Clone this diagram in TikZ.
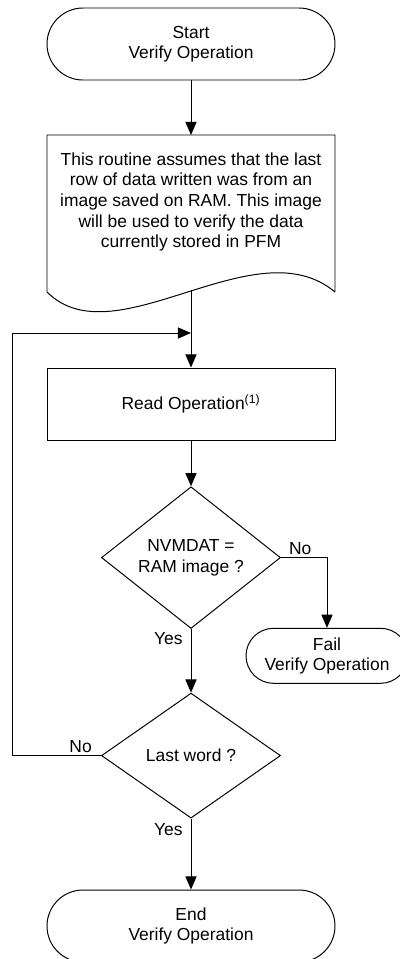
\documentclass[tikz,border=0pt]{standalone}
\usepackage{fontspec}
\setmainfont{Liberation Sans}
\usetikzlibrary{shapes.geometric,arrows.meta}

\begin{document}
\begin{tikzpicture}[line width=0.7pt, >={Triangle[length=3.3mm,width=2.8mm]},
  every node/.style={font=\fontsize{12.4}{14.6}\selectfont},
  term/.style={draw, rounded corners=9mm, minimum width=7.2cm, minimum height=1.8cm, align=center, inner sep=0pt},
  procbox/.style={draw, minimum width=7.2cm, minimum height=1.8cm, inner sep=0pt},
  decision/.style={draw, diamond, minimum width=4.475cm, minimum height=3.125cm, inner sep=0pt, align=center},
  lbl/.style={inner sep=2pt}]
\useasboundingbox (0,0) rectangle (10,-23.975);

\node[term] (start) at (4.775,-1.1) {Start\\Verify Operation};

% document shape with wavy bottom
\node[align=center] (doc) at (4.775,-5.05) {This routine assumes that the last\\row of data written was from an\\image saved on RAM. This image\\will be used to verify the data\\currently stored in PFM};
\draw (8.375,-7.3) -- (8.375,-3.375) -- (1.175,-3.375) -- (1.175,-7.3)
  .. controls (2.875,-9.0) and (6.375,-5.625) .. (8.375,-7.3);
\coordinate (doctop) at (4.775,-3.375);
\coordinate (docout) at (4.775,-7.26);
\coordinate (join) at (4.775,-8.325);
\coordinate (loopleft) at (0.3,-18.89);

\node[procbox] (read) at (4.775,-10.1) {Read Operation\textsuperscript{(1)}};
\node[decision] (cmp) at (4.775,-13.94) {NVMDAT =\\RAM image ?};
\node[term, minimum width=4.05cm, minimum height=1.375cm, rounded corners=6.875mm] (fail) at (8.175,-16.395) {Fail\\Verify Operation};
\node[decision] (last) at (4.775,-18.89) {Last word ?};
\node[term] (end) at (4.775,-23.15) {End\\Verify Operation};

\draw[->] (start) -- (doctop);
\draw[->] (docout) -- (read);
\draw[->] (read) -- (cmp);
\draw[->] (cmp.east) -| (fail.north);
\draw[->] (cmp) -- (last);
\draw[->] (last) -- (end);
\draw[->] (last.west) -- (loopleft) |- (join);

\node[lbl, anchor=south west] (no1) at ([xshift=1.2mm]cmp.east) {No};
\node[lbl, anchor=north east] (yes1) at ([xshift=-1.3mm]cmp.south) {Yes};
\node[lbl, anchor=south east] (no2) at ([xshift=-1.5mm]last.west) {No};
\node[lbl, anchor=north east] (yes2) at ([xshift=-1.3mm,yshift=-0.5mm]last.south) {Yes};
\end{tikzpicture}
\end{document}
